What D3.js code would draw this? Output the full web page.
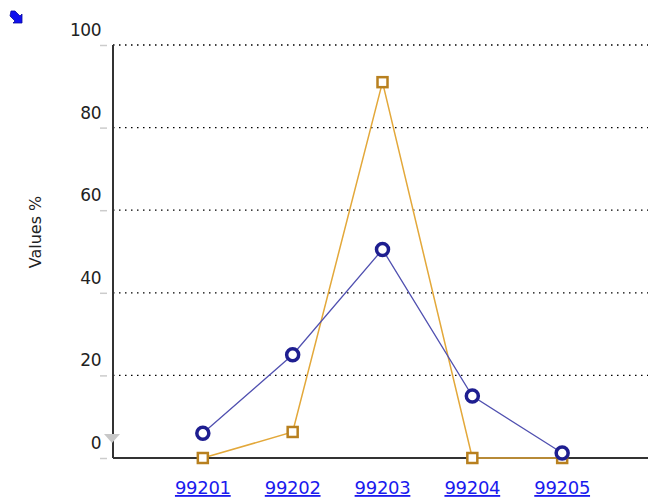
<!DOCTYPE html>
<html>
<head>
  <script src="https://d3js.org/d3.v7.min.js"></script>
  <style>
    body { margin: 0; background: #fff; }
    text { font-family: "DejaVu Sans", sans-serif; }
    .grid line { stroke: #000; stroke-width: 1.3px; stroke-dasharray: 1.5 4.5; }
    .xlab { fill: #1a1aee; text-decoration: underline; font-size: 18px; }
    .ylab { fill: #222; font-size: 17px; }
  </style>
</head>
<body>
  <svg id="chart" width="648" height="498"></svg>
  <script>
    // chart data
    const codes = ["99201", "99202", "99203", "99204", "99205"];
    const blueValues = [6, 25, 50.5, 15, 1.2];
    const orangeValues = [0, 6.3, 91, 0, 0];
    const yTicks = [0, 20, 40, 60, 80, 100];

    const svg = d3.select("#chart");
    const plotLeft = 113, plotRight = 652, plotTop = 45, plotBottom = 458;

    const x = d3.scalePoint().domain(codes).range([plotLeft, plotRight]).padding(1);
    const y = d3.scaleLinear().domain([0, 100]).range([plotBottom, plotTop]);

    // dotted gridlines
    svg.append("g").attr("class", "grid")
      .selectAll("line").data(yTicks.filter(d => d > 0))
      .join("line")
      .attr("x1", plotLeft).attr("x2", 648)
      .attr("y1", d => y(d)).attr("y2", d => y(d));

    // small grey ticks
    svg.append("g").selectAll("line").data(yTicks)
      .join("line")
      .attr("x1", 100).attr("x2", 107)
      .attr("y1", d => y(d) + 0.5).attr("y2", d => y(d) + 0.5)
      .attr("stroke", "#ccc").attr("stroke-width", 1.5);

    // tick labels
    svg.append("g").selectAll("text").data(yTicks)
      .join("text")
      .attr("class", "ylab")
      .attr("x", 101)
      .attr("y", d => y(d) - 9)
      .attr("text-anchor", "end")
      .attr("letter-spacing", -0.5)
      .text(d => d);

    // axes
    svg.append("line").attr("x1", plotLeft).attr("x2", plotLeft)
      .attr("y1", plotTop).attr("y2", plotBottom)
      .attr("stroke", "#333").attr("stroke-width", 2);
    svg.append("line").attr("x1", plotLeft).attr("x2", 648)
      .attr("y1", plotBottom).attr("y2", plotBottom)
      .attr("stroke", "#333").attr("stroke-width", 2);

    // grey triangle near zero
    svg.append("path")
      .attr("d", "M104,434 L120,434 L112,443 Z")
      .attr("fill", "#c8c8c8");

    // y title
    svg.append("text")
      .attr("transform", "translate(41,232) rotate(-90)")
      .attr("text-anchor", "middle")
      .attr("fill", "#222")
      .style("font-size", "16px")
      .text("Values %");

    // x labels
    svg.append("g").selectAll("text").data(codes)
      .join("text")
      .attr("class", "xlab")
      .attr("x", d => x(d))
      .attr("y", 494)
      .attr("text-anchor", "middle")
      .attr("letter-spacing", -0.3)
      .text(d => d);

    const line = d3.line().x((d, i) => x(codes[i])).y(d => y(d));

    // orange series
    svg.append("path").datum(orangeValues)
      .attr("fill", "none").attr("stroke", "#e3a83a").attr("stroke-width", 1.5)
      .attr("d", line);
    svg.append("g").selectAll("rect").data(orangeValues)
      .join("rect")
      .attr("x", (d, i) => x(codes[i]) - 5)
      .attr("y", d => y(d) - 5)
      .attr("width", 10).attr("height", 10)
      .attr("fill", "#fff").attr("stroke", "#b8801f").attr("stroke-width", 2.5);

    // blue series
    svg.append("path").datum(blueValues)
      .attr("fill", "none").attr("stroke", "#5050b0").attr("stroke-width", 1.3)
      .attr("d", line);
    svg.append("g").selectAll("circle").data(blueValues)
      .join("circle")
      .attr("cx", (d, i) => x(codes[i]))
      .attr("cy", d => y(d))
      .attr("r", 6)
      .attr("fill", "#fff").attr("stroke", "#1e1e90").attr("stroke-width", 3.5);

    // small blue arrow icon top-left
    svg.append("path")
      .attr("d", "M11,11 L15,11 L20,16 L22,14 L22,23 L13,23 L15,21 L10,16 Z")
      .attr("fill", "#1010ee").attr("stroke", "#0a0aa0").attr("stroke-width", 0.8);
  </script>
</body>
</html>
